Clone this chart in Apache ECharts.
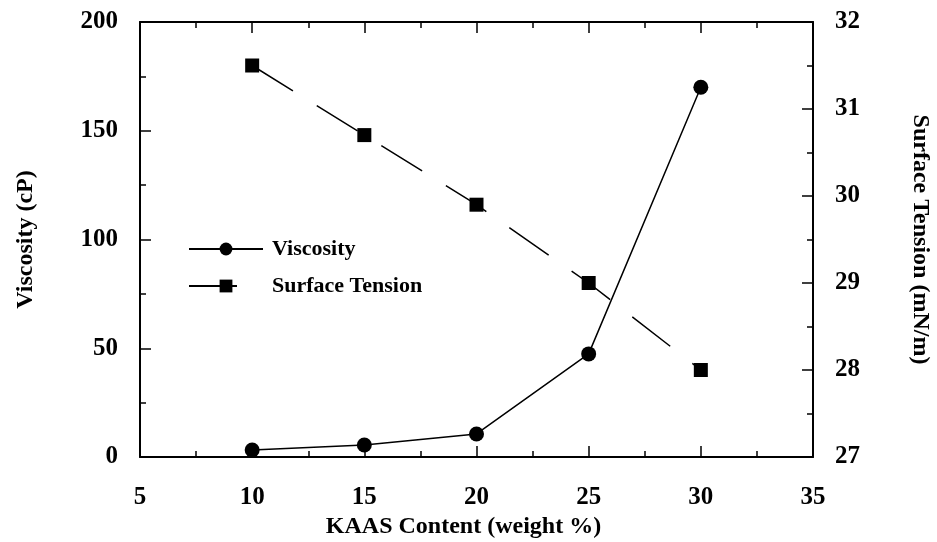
<!DOCTYPE html>
<html><head><meta charset="utf-8">
<script src="https://cdn.jsdelivr.net/npm/echarts@6/dist/echarts.min.js"></script>
<style>html,body{margin:0;padding:0;background:#fff}#c{width:937px;height:542px}</style>
</head><body><div id="c"></div>
<script>
var content = [10, 15, 20, 25, 30];
var viscosity = [3.2, 5.5, 10.6, 47.4, 170];
var surfaceTension = [31.5, 30.7, 29.9, 29.0, 28.0];
var seriesNames = ['Viscosity', 'Surface Tension'];
var axisNames = ['KAAS Content (weight %)', 'Viscosity (cP)', 'Surface Tension (mN/m)'];

var FONT = '"Liberation Serif", "DejaVu Serif", serif';
var chart = echarts.init(document.getElementById('c'));
function pairs(xs, ys){ return xs.map(function(x,i){ return [x, ys[i]]; }); }
var axisLine = {show:true, lineStyle:{color:'#000', width:2}};
var tick = {show:true, inside:true, length:11, lineStyle:{color:'#000', width:1.5}};
var minor = {show:true, splitNumber:2, length:6, lineStyle:{color:'#000', width:1.5}};
var labelStyle = {color:'#000', fontFamily:FONT, fontWeight:'bold', fontSize:25};
var nameStyle = {color:'#000', fontFamily:FONT, fontWeight:'bold', fontSize:24};

chart.setOption({
  animation:false,
  backgroundColor:'#fff',
  grid:{left:140, right:124, top:22, bottom:85, containLabel:false, outerBoundsMode:'none'},
  legend:{
    orient:'vertical', left:183, top:233, itemGap:15, itemWidth:74, itemHeight:16,
    textStyle:{color:'#000', fontFamily:FONT, fontWeight:'bold', fontSize:22, padding:[0,0,0,4]},
    data:seriesNames
  },
  xAxis:[{
    type:'value', min:5, max:35, interval:5, position:'bottom',
    axisLine:axisLine, axisTick:tick, minorTick:minor, splitLine:{show:false},
    axisLabel:Object.assign({margin:28}, labelStyle),
    name:axisNames[0], nameLocation:'middle', nameGap:50, nameTextStyle:Object.assign({padding:[0,26,0,0]}, nameStyle)
  },{
    type:'value', min:5, max:35, interval:5, position:'top',
    axisLine:axisLine, axisTick:tick, minorTick:minor, splitLine:{show:false},
    axisLabel:{show:false}
  }],
  yAxis:[{
    type:'value', min:0, max:200, interval:50, position:'left',
    axisLine:axisLine, axisTick:tick, minorTick:minor, splitLine:{show:false},
    axisLabel:Object.assign({margin:22}, labelStyle),
    name:axisNames[1], nameLocation:'middle', nameGap:102, nameTextStyle:nameStyle
  },{
    type:'value', min:27, max:32, interval:1, position:'right',
    axisLine:axisLine, axisTick:tick, minorTick:minor, splitLine:{show:false},
    axisLabel:Object.assign({margin:22}, labelStyle),
    name:axisNames[2], nameLocation:'middle', nameGap:95, nameRotate:-90, nameTextStyle:nameStyle
  }],
  series:[{
    name:seriesNames[0], type:'line', xAxisIndex:0, yAxisIndex:0,
    data:pairs(content, viscosity),
    symbol:'circle', symbolSize:15,
    lineStyle:{color:'#000', width:1.5},
    itemStyle:{color:'#000'}
  },{
    name:seriesNames[1], type:'line', xAxisIndex:0, yAxisIndex:1,
    data:pairs(content, surfaceTension),
    symbol:'rect', symbolSize:14,
    lineStyle:{color:'#000', width:1.5, type:[48,28]},
    itemStyle:{color:'#000'}
  }]
});
</script></body></html>
